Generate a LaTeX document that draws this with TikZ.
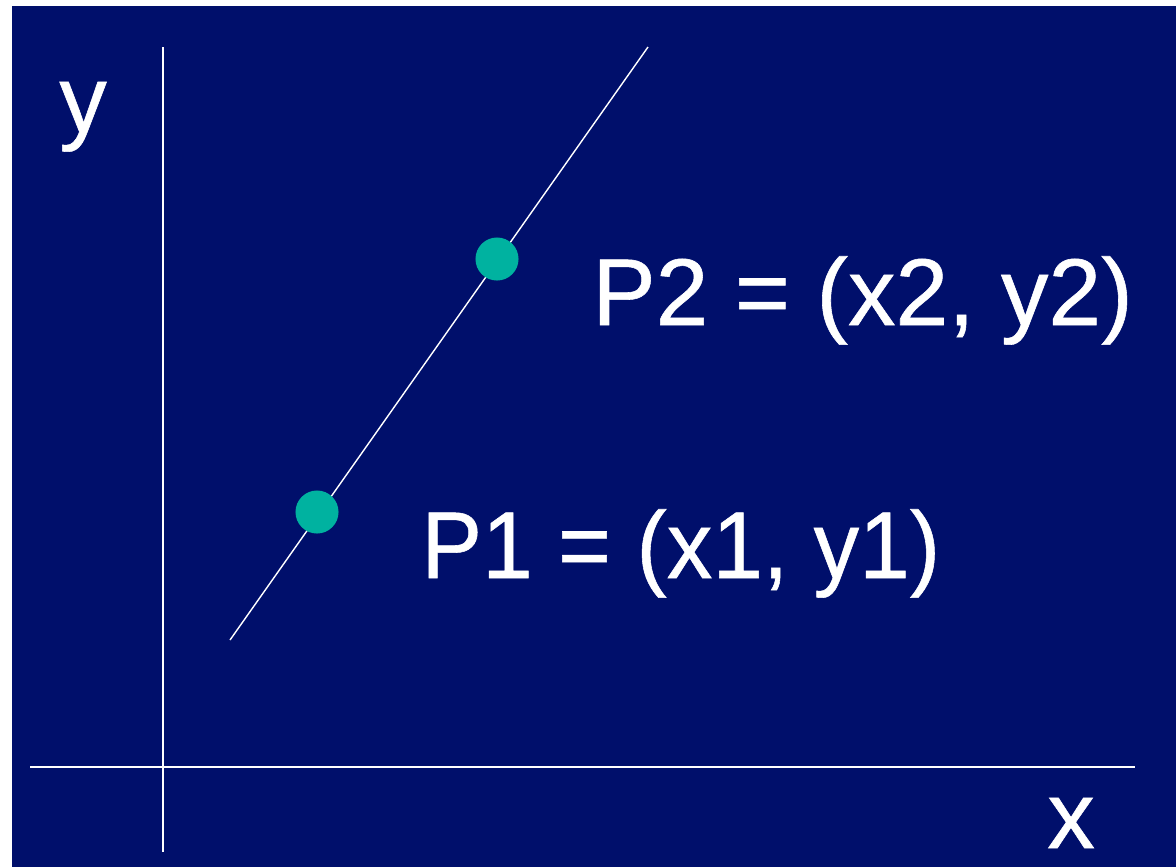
\documentclass[tikz,border=0pt]{standalone}
\usepackage{fontspec}
\setmainfont{Liberation Sans}
\newfontfamily\lblfont{Liberation Sans}[FakeBold=0.6]
\definecolor{navy}{RGB}{0,15,107}
\definecolor{teal}{RGB}{0,178,160}
\tikzset{
  axisline/.style={white, line width=1.2pt},
  graphline/.style={white, line width=0.8pt},
  dotnode/.style={circle, fill=teal, draw=none, minimum size=24.5pt, inner sep=0pt},
  lbl/.style={text=white, anchor=base west, inner sep=0pt, font=\lblfont\fontsize{54}{60}\selectfont}
}
\begin{document}
\begin{tikzpicture}[x=0.02cm, y=-0.02cm]
\useasboundingbox (0,0) rectangle (1176,867);
\fill[white] (0,0) rectangle (1176,867);
\fill[navy] (12,6) rectangle (1176,867);
% axes
\coordinate (ytop) at (163,47);
\coordinate (ybot) at (163,852);
\coordinate (xleft) at (30,767);
\coordinate (xright) at (1135,767);
\draw[axisline] (ytop) -- (ybot);
\draw[axisline] (xleft) -- (xright);
% line
\coordinate (lstart) at (230,640);
\coordinate (lend) at (648,47);
\draw[graphline] (lstart) -- (lend);
% points
\node[dotnode] (p1) at (317,512) {};
\node[dotnode] (p2) at (497,259) {};
% labels
\node[lbl] (ylab) at (59,132) {y};
\node[lbl] (xlab) at (1047,848) {x};
\node[lbl] (p2lab) at (592,325) {P2 = (x2, y2)};
\node[lbl, xscale=0.96] (p1lab) at (421,578) {P1 = (x1, y1)};
\end{tikzpicture}
\end{document}
